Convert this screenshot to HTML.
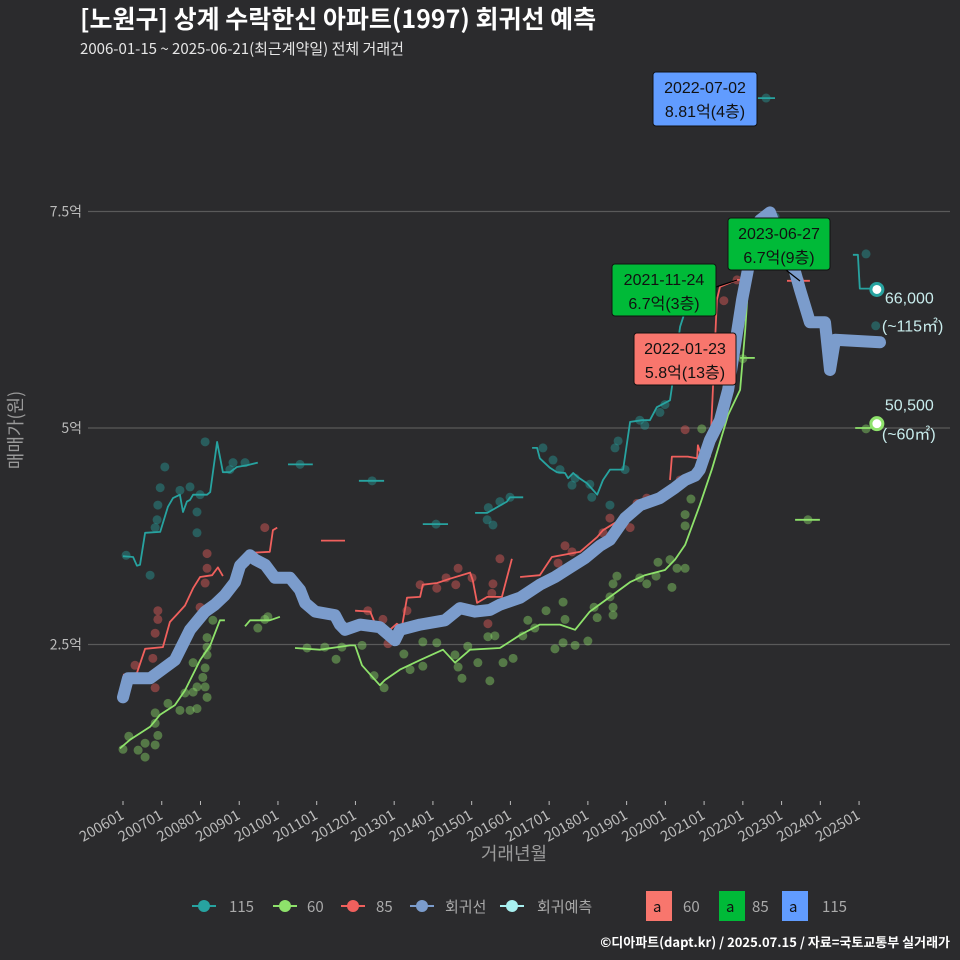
<!DOCTYPE html>
<html><head><meta charset="utf-8">
<style>
html,body{margin:0;padding:0;background:#2b2b2d;}
svg{display:block;font-family:"Liberation Sans","Noto Sans CJK KR",sans-serif;}
</style></head>
<body>
<svg id="chart" width="960" height="960" viewBox="0 0 960 960" xmlns="http://www.w3.org/2000/svg">
<rect width="960" height="960" fill="#2b2b2d"/>
<text x="80" y="28" fill="#ffffff" font-size="25" font-weight="bold" font-family="Noto Sans CJK KR, sans-serif">[노원구] 상계 수락한신 아파트(1997) 회귀선 예측</text>
<text x="80" y="54" fill="#e6e6e6" font-size="15" font-family="Noto Sans CJK KR, sans-serif">2006-01-15 ~ 2025-06-21(최근계약일) 전체 거래건</text>
<g id="grid"></g>
<g id="yaxis"></g>
<g id="xaxis"></g>
<g id="dots"></g>
<g id="lines"></g>
<g id="reg"></g>
<g id="ann"></g>
<text transform="translate(22,430) rotate(-90)" text-anchor="middle" fill="#9a9a9a" font-size="18" font-family="Noto Sans CJK KR, sans-serif">매매가(원)</text>
<text x="514" y="860" text-anchor="middle" fill="#9a9a9a" font-size="18" font-family="Noto Sans CJK KR, sans-serif">거래년월</text>
<g id="legend" font-size="15" fill="#aaaaaa" font-family="Noto Sans CJK KR, sans-serif">
  <g><line x1="192" y1="906" x2="216" y2="906" stroke="#27a3a0" stroke-width="2"/><circle cx="204" cy="906" r="6" fill="#27a3a0"/><text x="229" y="912">115</text></g>
  <g><line x1="273" y1="906" x2="297" y2="906" stroke="#8ee26b" stroke-width="2"/><circle cx="285" cy="906" r="6" fill="#8ee26b"/><text x="307" y="912">60</text></g>
  <g><line x1="341" y1="906" x2="365" y2="906" stroke="#f0605d" stroke-width="2"/><circle cx="353" cy="906" r="6" fill="#f0605d"/><text x="376" y="912">85</text></g>
  <g><line x1="410" y1="906" x2="434" y2="906" stroke="#7b9ccc" stroke-width="2"/><circle cx="422" cy="906" r="6" fill="#7b9ccc"/><text x="445" y="912">회귀선</text></g>
  <g><line x1="500" y1="906" x2="524" y2="906" stroke="#a8f0f0" stroke-width="2"/><circle cx="512" cy="906" r="6" fill="#a8f0f0"/><text x="537" y="912">회귀예측</text></g>
  <g><rect x="646" y="891" width="26" height="30" fill="#f8766d"/><text x="653" y="912" fill="#111">a</text><text x="683" y="912">60</text></g>
  <g><rect x="719" y="891" width="26" height="30" fill="#00ba38"/><text x="726" y="912" fill="#111">a</text><text x="752" y="912">85</text></g>
  <g><rect x="782" y="891" width="26" height="30" fill="#619cff"/><text x="789" y="912" fill="#111">a</text><text x="822" y="912">115</text></g>
</g>
<text x="950" y="947" text-anchor="end" fill="#ffffff" font-size="13" font-weight="bold" font-family="Noto Sans CJK KR, sans-serif">©디아파트(dapt.kr) / 2025.07.15 / 자료=국토교통부 실거래가</text>
</svg>
<script>
const yTicks=[2.5,5,7.5];
const yTickLabels=["2.5억","5억","7.5억"];
const xTicks=[2006,2007,2008,2009,2010,2011,2012,2013,2014,2015,2016,2017,2018,2019,2020,2021,2022,2023,2024,2025];
const xTickLabels=["200601","200701","200801","200901","201001","201101","201201","201301","201401","201501","201601","201701","201801","201901","202001","202101","202201","202301","202401","202501"];

const regT=[2006.0,2006.13,2006.7,2007.34,2007.73,2008.12,2008.37,2008.63,2008.89,2009.02,2009.28,2009.41,2009.67,2009.92,2010.31,2010.57,2010.70,2010.96,2011.47,2011.60,2011.73,2012.12,2012.63,2013.02,2013.15,2013.67,2014.31,2014.70,2015.09,2015.47,2015.73,2016.25,2016.76,2017.15,2017.54,2017.93,2018.31,2018.57,2018.96,2019.35,2019.86,2020.25,2020.51,2020.77,2020.89,2021.15,2021.41,2021.62,2021.80,2021.98,2022.18,2022.44,2022.70,2022.96,2023.22,2023.35,2023.48,2023.73,2024.12,2024.25,2024.38,2025.54];
const regV=[1.89,2.11,2.11,2.32,2.67,2.88,2.96,3.07,3.22,3.41,3.53,3.48,3.42,3.27,3.27,3.13,2.98,2.88,2.84,2.73,2.67,2.73,2.70,2.55,2.67,2.73,2.78,2.92,2.88,2.90,2.96,3.04,3.19,3.28,3.39,3.50,3.64,3.71,3.96,4.11,4.19,4.31,4.40,4.45,4.52,4.86,5.09,5.44,5.96,6.48,6.94,7.40,7.49,7.17,6.94,6.80,6.59,6.22,6.22,5.67,6.02,5.99];

const g60T=[[2005.92,2006.18,2006.70,2006.96,2007.34,2007.60,2007.99,2008.25,2008.50,2008.63],[2009.15,2009.28,2009.79,2010.05],[2010.44,2011.08,2011.86,2011.99,2012.17,2012.63,2012.76,2013.15,2013.67,2014.26,2014.57,2014.96,2015.73,2016.25,2016.76,2017.28,2017.67,2018.05,2018.57,2019.09,2019.47,2019.99,2020.25,2020.51,2020.89,2021.20,2021.46,2021.62,2021.93,2022.06,2022.18],[2021.93,2022.31],[2023.35,2023.99],[2024.90,2025.28,2025.46]];
const g60V=[[1.30,1.40,1.55,1.69,1.80,1.97,2.32,2.49,2.78,2.78],[2.71,2.78,2.78,2.82],[2.46,2.44,2.49,2.49,2.26,2.03,2.09,2.21,2.32,2.44,2.29,2.44,2.46,2.61,2.73,2.73,2.67,2.88,3.05,3.22,3.30,3.36,3.48,3.65,4.11,4.52,4.91,5.15,5.44,6.13,6.94],[5.81,5.81],[3.94,3.94],[5.0,5.0,5.03]];

const r85T=[[2006.00,2006.36,2006.57,2007.03,2007.21,2007.42,2007.60,2007.81,2007.99,2008.30,2008.45,2008.58],[2009.10,2009.23,2009.36,2009.79,2009.87,2009.98],[2011.11,2011.73],[2011.99,2012.38,2012.50,2012.71,2012.89,2013.07,2013.20,2013.33,2013.67,2013.74,2014.11,2014.44,2014.96,2015.03,2015.14,2015.40,2015.78,2016.04],[2016.25,2016.76,2017.07,2017.80,2018.24,2018.39,2018.83,2019.01,2019.35,2019.78],[2020.12,2020.17,2020.58,2020.82,2020.84,2020.95,2021.07,2021.15,2021.33,2021.41,2021.85,2022.11],[2023.14,2023.73]];
const r85V=[[2.15,2.17,2.45,2.47,2.76,2.86,2.95,3.15,3.28,3.30,3.39,3.29],[3.48,3.42,3.56,3.57,3.82,3.85],[3.70,3.70],[2.89,2.88,2.75,2.64,2.67,2.74,2.70,3.04,3.05,3.19,3.21,3.26,3.33,3.24,2.98,3.05,3.05,3.49],[3.28,3.30,3.51,3.57,3.74,3.82,3.94,4.02,4.08,4.19],[4.40,4.67,4.67,4.65,4.80,4.65,4.63,4.67,6.48,6.63,6.71,6.71],[6.70,6.70]];

const t115T=[[2006.00,2006.26,2006.36,2006.44,2006.57,2006.96,2007.16,2007.29,2007.47,2007.55,2007.65,2007.73,2007.81,2008.17,2008.25,2008.43,2008.58,2008.76,2008.94,2009.20,2009.48],[2010.26,2010.90],[2012.09,2012.74],[2013.74,2014.39],[2015.09,2015.40,2015.91,2015.99,2016.33],[2016.56,2016.69,2016.76,2017.02,2017.20,2017.41,2017.49,2017.62,2017.75,2017.98,2018.24,2018.39,2018.57,2018.91,2019.09,2019.40,2019.60,2019.78,2019.91,2020.12,2020.17,2020.38,2020.46,2020.64],[2022.39,2022.83],[2024.84,2024.97,2025.02,2025.41]];
const t115V=[[3.52,3.51,3.41,3.42,3.79,3.80,4.09,4.19,4.23,4.03,4.15,4.17,4.23,4.23,4.26,4.84,4.49,4.49,4.55,4.57,4.60],[4.58,4.58],[4.39,4.39],[3.89,3.89],[4.02,4.02,4.15,4.20,4.20],[4.77,4.77,4.65,4.54,4.49,4.48,4.42,4.48,4.43,4.36,4.23,4.40,4.52,4.52,5.07,5.09,5.09,5.24,5.27,5.32,5.47,6.17,6.28,6.59],[8.81,8.81],[7.00,7.00,6.61,6.61]];

const d115T=[2006.08,2006.70,2006.83,2006.88,2006.90,2006.96,2007.08,2007.47,2007.73,2007.91,2007.91,2007.99,2008.12,2008.76,2008.84,2009.15,2010.57,2012.43,2014.08,2015.40,2015.43,2015.55,2015.73,2015.99,2016.84,2017.10,2017.28,2017.59,2017.67,2018.05,2018.10,2018.57,2018.70,2018.78,2018.96,2019.34,2019.47,2019.86,2019.99,2022.60,2022.83,2025.18,2025.43];
const d115V=[3.53,3.30,3.85,3.94,4.11,4.31,4.55,4.28,4.32,3.79,4.03,4.23,4.84,4.52,4.60,4.60,4.58,4.39,3.89,3.94,4.08,3.88,4.15,4.20,4.77,4.63,4.52,4.34,4.42,4.35,4.20,4.11,4.77,4.85,4.52,5.09,5.03,5.18,5.27,8.81,7.44,7.01,6.18];
const d85T=[2006.31,2006.83,2006.83,2006.90,2006.90,2006.77,2007.99,2008.12,2008.17,2008.17,2009.66,2012.32,2012.71,2012.84,2013.33,2013.67,2014.10,2014.34,2014.65,2014.59,2015.01,2015.55,2015.52,2015.73,2015.42,2017.41,2017.59,2017.23,2018.57,2018.39,2019.27,2019.52,2019.09,2020.51,2020.38,2021.51,2021.85,2023.47];
const d85V=[2.26,2.00,2.63,2.79,2.89,2.34,2.93,3.21,3.38,3.55,3.85,2.89,2.79,2.51,2.89,3.19,3.15,3.27,3.38,3.19,3.27,3.20,3.09,3.49,2.74,3.64,3.57,3.44,3.96,3.79,4.13,4.19,3.85,4.98,4.40,6.47,6.71,6.70];
const d60T=[2006.00,2006.15,2006.39,2006.57,2006.57,2006.83,2006.83,2006.83,2006.90,2007.16,2007.47,2007.73,2007.91,2007.60,2007.81,2007.91,2008.12,2008.17,2008.06,2008.12,2007.81,2008.17,2008.17,2008.17,2008.32,2009.48,2009.66,2009.74,2010.75,2011.21,2011.50,2011.65,2012.17,2012.48,2012.74,2013.25,2013.41,2013.74,2013.74,2014.10,2014.57,2014.65,2014.75,2014.90,2015.16,2015.47,2015.42,2015.60,2015.81,2016.07,2016.32,2016.45,2016.63,2016.92,2017.15,2017.36,2017.41,2017.36,2017.67,2018.00,2018.16,2018.24,2018.57,2018.65,2018.65,2018.75,2018.65,2019.34,2019.52,2019.76,2019.81,2020.12,2020.30,2020.51,2020.17,2020.51,2020.51,2020.66,2020.94,2022.00,2023.68,2025.18,2025.38];
const d60V=[1.29,1.44,1.28,1.20,1.36,1.34,1.59,1.71,1.45,1.82,1.74,1.74,1.76,1.94,1.95,2.01,2.01,1.89,2.12,2.23,2.29,2.38,2.47,2.58,2.78,2.69,2.79,2.82,2.46,2.47,2.33,2.47,2.49,2.14,2.00,2.39,2.21,2.53,2.25,2.52,2.38,2.24,2.11,2.48,2.29,2.08,2.59,2.60,2.29,2.34,2.60,2.78,2.69,2.89,2.45,2.99,2.79,2.52,2.49,2.54,2.93,2.81,3.05,2.93,2.84,3.29,3.20,3.27,3.20,3.29,3.45,3.48,3.38,3.38,3.16,3.87,4.00,4.18,4.99,5.80,3.94,4.99,5.06];

const lastT=[2025.46,2025.46];
const lastV=[6.60,5.05];
const lastLabels=["66,000","50,500"];
const lastArea=["(~115㎡)","(~60㎡)"];
const lastOffsets=[[14,42],[-13,16]];

const NS="http://www.w3.org/2000/svg";
const X=t=>123+(t-2006)*38.74;
const Y=v=>428-(v-5)*86.6;
function mk(tag,attrs,parent){const e=document.createElementNS(NS,tag);for(const k in attrs)e.setAttribute(k,attrs[k]);parent.appendChild(e);return e;}
const grid=document.getElementById('grid'),yax=document.getElementById('yaxis'),xax=document.getElementById('xaxis');
yTicks.forEach((v,i)=>{
  const l=mk('line',{x1:88,x2:950,y1:Y(v),y2:Y(v),stroke:'#5a5a5a','stroke-width':1.2},grid);
  
  
  const t=mk('text',{x:82,y:Y(v)+5,'text-anchor':'end',fill:'#bbbbbb','font-size':14,'font-family':'Noto Sans CJK KR, sans-serif'},yax);
  t.textContent=yTickLabels[i];
  
  
});
xTicks.forEach((v,i)=>{
  const x=X(v);
  const l=mk('line',{x1:x,x2:x,y1:801,y2:805,stroke:'#bbbbbb','stroke-width':1},xax);
  
  
  const t=mk('text',{x:x+2,y:818,'text-anchor':'end',fill:'#bbbbbb','font-size':14.5,'font-family':'Noto Sans CJK KR, sans-serif',transform:`rotate(-30 ${x+2} 818)`},xax);
  t.textContent=xTickLabels[i];
  
  
});
const dots=document.getElementById('dots');
function drawDots(T,V,col,name){T.forEach((t,i)=>{const c=mk('circle',{cx:X(t),cy:Y(V[i]),r:4.5,fill:col,'fill-opacity':0.42},dots);
  
  });}
drawDots(d115T,d115V,'#27a3a0','point-115');
drawDots(d85T,d85V,'#f0605d','point-85');
drawDots(d60T,d60V,'#8ee26b','point-60');
const lines=document.getElementById('lines');
function drawSegs(TT,VV,col,name){TT.forEach((T,s)=>{const p=T.map((t,i)=>X(t).toFixed(1)+','+Y(VV[s][i]).toFixed(1)).join(' ');
  const pl=mk('polyline',{points:p,fill:'none',stroke:col,'stroke-width':1.8,'stroke-linejoin':'round'},lines);
  
  });}
drawSegs(t115T,t115V,'#27a3a0','line-115');
drawSegs(r85T,r85V,'#f0605d','line-85');
drawSegs(g60T,g60V,'#8ee26b','line-60');
const reg=document.getElementById('reg');
const rp=mk('polyline',{points:regT.map((t,i)=>X(t).toFixed(1)+','+Y(regV[i]).toFixed(1)).join(' '),fill:'none',stroke:'#7b9ccc','stroke-width':12,'stroke-linejoin':'round','stroke-linecap':'round'},reg);


const ann=document.getElementById('ann');
const lastCol=['#27a3a0','#8ee26b'];
lastT.forEach((t,i)=>{
  const c=mk('circle',{cx:X(t),cy:Y(lastV[i]),r:6,fill:'#ffffff',stroke:lastCol[i],'stroke-width':3},ann);
  
  
  const a=mk('text',{x:X(t)+8,y:Y(lastV[i])+lastOffsets[i][0],fill:'#c8ecec','font-size':16},ann);a.textContent=lastLabels[i];
  
  
  const b=mk('text',{x:X(t)+5,y:Y(lastV[i])+lastOffsets[i][1],fill:'#c8ecec','font-size':16,'font-family':'Liberation Sans, Noto Sans CJK KR, sans-serif'},ann);b.textContent=lastArea[i];
  
  
});
const boxes=[
 {x:653,y:72,w:104,h:54,c:'#619cff',l1:'2022-07-02',l2:'8.81억(4층)',n:'max-label-115'},
 {x:728,y:218,w:102,h:52,c:'#00ba38',l1:'2023-06-27',l2:'6.7억(9층)',n:'max-label-85-2023'},
 {x:612,y:264,w:104,h:52,c:'#00ba38',l1:'2021-11-24',l2:'6.7억(3층)',n:'max-label-85-2021'},
 {x:634,y:333,w:102,h:52,c:'#f8766d',l1:'2022-01-23',l2:'5.8억(13층)',n:'max-label-60'}];
mk('line',{x1:716,y1:287,x2:737,y2:280,stroke:'#000','stroke-width':1.2},ann);
mk('line',{x1:786,y1:270,x2:800,y2:281,stroke:'#000','stroke-width':1.2},ann);
boxes.forEach(b=>{
  const g=mk('g',{},ann);
  
  
  mk('rect',{x:b.x,y:b.y,width:b.w,height:b.h,rx:3,fill:b.c,stroke:'#111','stroke-width':1},g);
  const t1=mk('text',{x:b.x+b.w/2,y:b.y+21,'text-anchor':'middle',fill:'#111','font-size':16},g);t1.textContent=b.l1;
  const t2=mk('text',{x:b.x+b.w/2,y:b.y+45,'text-anchor':'middle',fill:'#111','font-size':16},g);t2.textContent=b.l2;
});
</script>
</body></html>
